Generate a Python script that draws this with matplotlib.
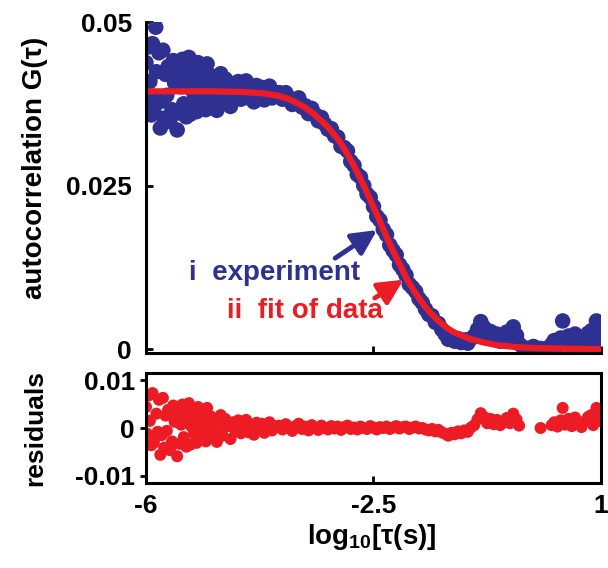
import numpy as np
import matplotlib
matplotlib.use('Agg')
import matplotlib.pyplot as plt

plt.rcParams['font.family'] = 'Liberation Sans'
plt.rcParams['font.weight'] = 'bold'
plt.rcParams['mathtext.fontset'] = 'custom'
plt.rcParams['mathtext.bf'] = 'Liberation Sans:bold'
plt.rcParams['mathtext.rm'] = 'Liberation Sans:bold'
plt.rcParams['mathtext.default'] = 'bf'

BLUE = '#2E3192'
RED = '#ED1C24'

# lag times, log10(tau) -- same points for data and residuals
tau_res = [-6.00, -5.98, -5.96, -5.94, -5.92, -5.90, -5.88, -5.86, -5.84, -5.82,
           -5.80, -5.78, -5.76, -5.74, -5.72, -5.70, -5.68, -5.66, -5.64, -5.62,
           -5.60, -5.58, -5.56, -5.54, -5.52, -5.50, -5.48, -5.46, -5.44, -5.42,
           -5.40, -5.38, -5.36, -5.34, -5.32, -5.30, -5.28, -5.26, -5.24, -5.22,
           -5.20, -5.18, -5.16, -5.14, -5.12, -5.10, -5.08, -5.06, -5.04, -5.02,
           -5.00, -4.97, -4.94, -4.91, -4.88, -4.85,
           -4.82, -4.78, -4.74, -4.70, -4.66, -4.62, -4.58, -4.54, -4.50, -4.46,
           -4.42, -4.38, -4.34, -4.30, -4.26, -4.22, -4.18, -4.14, -4.10, -4.06, -4.02,
           -3.95, -3.90, -3.85, -3.80, -3.75, -3.70, -3.65, -3.60, -3.55, -3.50,
           -3.45, -3.40, -3.35, -3.30, -3.25, -3.20, -3.15, -3.10, -3.05, -3.00,
           -2.95, -2.90, -2.85, -2.80, -2.75, -2.70, -2.65, -2.60, -2.55, -2.50,
           -2.45, -2.40, -2.35, -2.30, -2.25, -2.20, -2.15, -2.10, -2.05, -2.00,
           -1.95, -1.90, -1.85, -1.80, -1.75, -1.70, -1.65, -1.60, -1.55, -1.50, -1.45,
           -1.40, -1.35, -1.30, -1.25, -1.20, -1.15, -1.10, -1.05, -1.00, -0.95,
           -0.90, -0.85, -0.80, -0.75, -0.70, -0.65, -0.60, -0.55, -0.50, -0.45,
           -0.40, -0.35, -0.30, -0.26, 0.07, 0.24, 0.28, 0.33, 0.38, 0.41,
           0.45, 0.50, 0.55, 0.60, 0.65, 0.70, 0.75, 0.80, 0.85, 0.88,
           0.93, 0.97, 1.00]

# measured autocorrelation G(tau)
g_meas = [0.0438, 0.0382, 0.0462, 0.0409, 0.0358, 0.0467, 0.0363, 0.0373, 0.0424, 0.0386,
          0.0453, 0.0338, 0.0379, 0.0457, 0.0353, 0.0420, 0.0388, 0.0432, 0.0348, 0.0354,
          0.0366, 0.0441, 0.0407, 0.0416, 0.0335, 0.0428, 0.0361, 0.0401, 0.0443, 0.0375,
          0.0422, 0.0355, 0.0410, 0.0446, 0.0359, 0.0397, 0.0430, 0.0382, 0.0415, 0.0363,
          0.0438, 0.0403, 0.0374, 0.0423, 0.0389, 0.0412, 0.0366, 0.0436, 0.0396, 0.0380,
          0.0418, 0.0386, 0.0409, 0.0365, 0.0400, 0.0421,
          0.0378, 0.0413, 0.0398, 0.0371, 0.0406, 0.0386, 0.0409, 0.0382, 0.0401, 0.0410,
          0.0384, 0.0397, 0.0378, 0.0403, 0.0388, 0.0400, 0.0381, 0.0396, 0.0402, 0.0384, 0.0392,
          0.0392, 0.0382, 0.0392, 0.0384, 0.0374, 0.0381, 0.0384, 0.0370, 0.0372, 0.0360,
          0.0368, 0.0359, 0.0349, 0.0354, 0.0344, 0.0336, 0.0337, 0.0326, 0.0324, 0.0310,
          0.0308, 0.0303, 0.0287, 0.0281, 0.0267, 0.0263, 0.0250, 0.0237, 0.0232, 0.0218,
          0.0203, 0.0197, 0.0183, 0.0175, 0.0159, 0.0151, 0.0144, 0.0129, 0.0122, 0.0113,
          0.0099, 0.0094, 0.0088, 0.0077, 0.0071, 0.0061, 0.0053, 0.0051, 0.0041, 0.0039, 0.0030,
          0.0023, 0.0015, 0.0018, 0.0012, 0.0016, 0.0010, 0.0014, 0.0009, 0.0016, 0.0020,
          0.0030, 0.0042, 0.0033, 0.0019, 0.0027, 0.0015, 0.0023, 0.0012, 0.0017, 0.0026,
          0.0014, 0.0034, 0.0021, 0.0008, 0.0001, 0.0007, 0.0013, 0.0004, 0.0017, 0.0043,
          0.0008, 0.0020, 0.0005, 0.0023, 0.0011, 0.0003, 0.0015, 0.0024, 0.0028, 0.0007,
          0.0043, 0.0016, 0.0029]

# a few more measured points that have no residual drawn
tau_more = [-5.85, -0.20, -0.12, -0.04, 0.15, 0.19, 0.62, 0.78, 0.90]
g_more = [0.0492, 0.0003, 0.0001, 0.0004, 0.0000, 0.0002, 0.0001, 0.0002, 0.0000]

# residuals of the fit
res_val = [0.0044, -0.0012, 0.0068, 0.0015, -0.0036, 0.0073, -0.0031, -0.0021, 0.0030, -0.0008,
           0.0059, -0.0056, -0.0015, 0.0063, -0.0041, 0.0026, -0.0006, 0.0038, -0.0046, -0.0040,
           -0.0028, 0.0047, 0.0013, 0.0022, -0.0059, 0.0034, -0.0033, 0.0007, 0.0049, -0.0019,
           0.0028, -0.0039, 0.0016, 0.0052, -0.0035, 0.0003, 0.0036, -0.0012, 0.0021, -0.0031,
           0.0044, 0.0009, -0.0020, 0.0029, -0.0005, 0.0018, -0.0028, 0.0042, 0.0002, -0.0014,
           0.0024, -0.0008, 0.0015, -0.0029, 0.0006, 0.0027,
           -0.0016, 0.0019, 0.0004, -0.0023, 0.0012, -0.0007, 0.0016, -0.0011, 0.0008, 0.0017,
           -0.0009, 0.0005, -0.0014, 0.0011, -0.0003, 0.0009, -0.0010, 0.0006, 0.0012, -0.0005, 0.0004,
           0.0005, -0.0003, 0.0008, 0.0002, -0.0006, 0.0004, 0.0009, -0.0002, 0.0003, -0.0005,
           0.0006, 0.0001, -0.0004, 0.0005, 0.0000, -0.0003, 0.0004, -0.0001, 0.0003, -0.0004,
           0.0002, 0.0005, -0.0002, 0.0001, -0.0003, 0.0003, 0.0000, -0.0002, 0.0004, 0.0001,
           -0.0003, 0.0002, 0.0000, 0.0003, -0.0002, 0.0001, 0.0004, -0.0001, 0.0002, 0.0003,
           -0.0002, 0.0001, 0.0003, -0.0001, 0.0000, -0.0003, -0.0005, -0.0002, -0.0007, -0.0004, -0.0009,
           -0.0012, -0.0016, -0.0010, -0.0013, -0.0007, -0.0011, -0.0005, -0.0008, 0.0001, 0.0006,
           0.0018, 0.0031, 0.0023, 0.0010, 0.0019, 0.0008, 0.0017, 0.0006, 0.0012, 0.0021,
           0.0010, 0.0030, 0.0018, 0.0005, 0.0000, 0.0006, 0.0012, 0.0003, 0.0016, 0.0042,
           0.0007, 0.0019, 0.0004, 0.0022, 0.0010, 0.0002, 0.0014, 0.0023, 0.0027, 0.0006,
           0.0042, 0.0015, 0.0028]

# fitted curve
tau_fit = [-6.0, -5.5, -5.0, -4.5, -4.2, -4.0,
           -3.95, -3.90, -3.85, -3.80, -3.75, -3.70, -3.65, -3.60, -3.55, -3.50,
           -3.45, -3.40, -3.35, -3.30, -3.25, -3.20, -3.15, -3.10, -3.05, -3.00,
           -2.95, -2.90, -2.85, -2.80, -2.75, -2.70, -2.65, -2.60, -2.55, -2.50,
           -2.45, -2.40, -2.35, -2.30, -2.25, -2.20, -2.15, -2.10, -2.05, -2.00,
           -1.95, -1.90, -1.85, -1.80, -1.75, -1.70, -1.65, -1.60, -1.55, -1.50, -1.45,
           -1.40, -1.35, -1.30, -1.25, -1.20, -1.10, -1.00, -0.90, -0.80, -0.70,
           -0.60, -0.50, -0.40, -0.30, -0.20, 0.0, 0.5, 1.0]
g_fit = [0.0394, 0.0394, 0.0394, 0.0393, 0.0391, 0.0388,
         0.0387, 0.0385, 0.0384, 0.0382, 0.0380, 0.0377, 0.0375, 0.0372, 0.0369, 0.0365,
         0.0362, 0.0358, 0.0353, 0.0349, 0.0344, 0.0339, 0.0333, 0.0327, 0.0321, 0.0314,
         0.0306, 0.0298, 0.0289, 0.0280, 0.0270, 0.0260, 0.0250, 0.0239, 0.0228, 0.0217,
         0.0206, 0.0195, 0.0183, 0.0172, 0.0161, 0.0150, 0.0140, 0.0130, 0.0120, 0.0110,
         0.0101, 0.0093, 0.0085, 0.0078, 0.0071, 0.0064, 0.0058, 0.0053, 0.0048, 0.0043, 0.0039,
         0.0035, 0.0031, 0.0028, 0.0025, 0.0023, 0.0019, 0.0015, 0.00125, 0.0010, 0.0008,
         0.0006, 0.0005, 0.0004, 0.0003, 0.00025, 0.00015, 0.00005, 0.0]

tau_exp = tau_res + tau_more
g_exp = g_meas + g_more

fig = plt.figure(figsize=(6.08, 5.68), dpi=100)
ax1 = fig.add_axes([0.2401, 0.3785, 0.7484, 0.5827])
ax2 = fig.add_axes([0.2401, 0.1496, 0.7484, 0.1937])

#top panel---------------------------------------------------------------
ax1.scatter(tau_exp, g_exp, s=125, color=BLUE, edgecolors='none', zorder=2)
ax1.plot(tau_fit, g_fit, color=RED, lw=4.5, zorder=3)
ax1.set_xlim(-6, 1)
ax1.set_ylim(-0.0006, 0.05)
ax1.spines['top'].set_visible(False)
ax1.spines['right'].set_visible(False)
for s in ['left', 'bottom']:
    ax1.spines[s].set_linewidth(2.2)
    ax1.spines[s].set_zorder(4)
ax1.set_yticks([0, 0.025, 0.05])
ax1.set_yticklabels(['0', '0.025', '0.05'])
ax1.set_xticks([-6, -2.5, 1])
ax1.tick_params(axis='x', labelbottom=False, direction='in', length=5, width=2)
ax1.tick_params(axis='y', direction='in', length=5, width=2, labelsize=19, pad=10)

ax1.annotate('', xy=(-2.445, 0.0182), xytext=(-3.09, 0.0139),
             arrowprops=dict(arrowstyle='-|>,head_length=0.6,head_width=0.3',
                             color=BLUE, lw=3.5, mutation_scale=25,
                             shrinkA=0, shrinkB=0))
ax1.annotate('', xy=(-2.04, 0.0106), xytext=(-2.48, 0.0078),
             arrowprops=dict(arrowstyle='-|>,head_length=0.6,head_width=0.3',
                             color=RED, lw=3.5, mutation_scale=25,
                             shrinkA=0, shrinkB=0))
ax1.text(-5.335, 0.01055, 'i  experiment', color=BLUE, fontsize=20, fontweight='bold')
ax1.text(-4.75, 0.00474, 'ii  fit of data', color=RED, fontsize=20, fontweight='bold')

#residuals---------------------------------------------------------------
ax2.scatter(tau_res, res_val, s=75, color=RED, edgecolors='none', zorder=2)
ax2.set_xlim(-6, 1)
ax2.set_ylim(-0.0115, 0.0115)
for s in ['left', 'bottom', 'top', 'right']:
    ax2.spines[s].set_linewidth(2.2)
ax2.set_yticks([-0.01, 0, 0.01])
ax2.set_yticklabels(['-0.01', '0', '0.01'])
ax2.set_xticks([-6, -2.5, 1])
ax2.set_xticklabels(['-6', '-2.5', '1'])
ax2.tick_params(axis='x', direction='in', length=5, width=2, labelsize=19, pad=8)
ax2.tick_params(axis='y', direction='out', length=4, width=2, labelsize=19, pad=4)

#labels---------------------------------------------------------------
fig.text(0.0576, 0.704, 'autocorrelation G(τ)', rotation=90, ha='center', va='center',
         fontsize=20, fontweight='bold')
fig.text(0.0576, 0.2465, 'residuals', rotation=90, ha='center', va='center',
         fontsize=19, fontweight='bold')
fig.text(0.612, 0.0546, r'log$_{10}$[τ(s)]', ha='center', va='center',
         fontsize=20, fontweight='bold')

plt.savefig('out.png', dpi=100)
